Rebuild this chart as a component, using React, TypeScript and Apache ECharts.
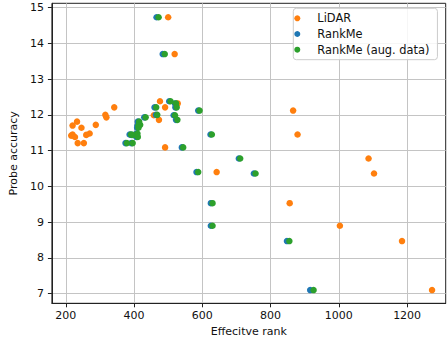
import React, { useEffect, useRef } from "react";
import * as echarts from "echarts";

// Probe accuracy of each model (shared y)
const probeAccuracy = [
  14.73, 13.7, 12.38, 12.32, 12.21, 12.21, 12.12, 12.0, 11.99, 11.93, 11.86, 11.81, 11.72, 11.7, 11.64,
  11.48, 11.45, 11.45, 11.44, 11.42, 11.38, 11.21, 11.21, 11.09, 10.78, 10.4, 10.36, 9.53, 8.9, 8.47, 7.1,
];
// Effective rank per method
const lidarRank = [
  500, 519, 476, 528, 491, 342, 866, 316, 458, 319, 473, 233, 288, 220, 246,
  270, 879, 220, 260, 216, 227, 235, 253, 491, 1087, 642, 1103, 856, 1003, 1185, 1273,
];
const rankMeRank = [
  466, 484, 503, 520, 460, 521, 588, 464, 516, 430, 523, 411, 414, 410, 409,
  407, 624, 387, 392, 405, 407, 375, 392, 540, 707, 583, 751, 625, 625, 848, 916,
];
const rankMeAugRank = [
  472, 490, 507, 523, 465, 525, 592, 468, 520, 434, 527, 415, 418, 413, 413,
  410, 628, 391, 396, 409, 411, 379, 396, 544, 711, 588, 756, 630, 630, 855, 926,
];
const xTicks = [200, 400, 600, 800, 1000, 1200];
const yTicks = [7, 8, 9, 10, 11, 12, 13, 14, 15];
const seriesNames = ["LiDAR", "RankMe", "RankMe (aug. data)"];
const seriesColors = ["#ff7f0e", "#1f77b4", "#2ca02c"];

const FONT = "DejaVu Sans";

export default function App() {
  const ref = useRef<HTMLDivElement>(null);
  useEffect(() => {
    if (!ref.current) return;
    const chart = echarts.init(ref.current, undefined, { renderer: "svg" });
    const xs = [lidarRank, rankMeRank, rankMeAugRank];
    chart.setOption({
      animation: false,
      backgroundColor: "#ffffff",
      textStyle: { fontFamily: FONT },
      grid: {
        left: 48.3,
        right: 1.3,
        top: 3.3,
        bottom: 39.7,
        show: true,
        borderColor: "#222",
        borderWidth: 1,
        backgroundColor: "transparent",
      },
      legend: {
        data: seriesNames,
        orient: "vertical",
        left: 293.3,
        top: 8.3,
        padding: [3, 8, 3, 1],
        itemGap: 1.7,
        itemWidth: 30,
        itemHeight: 6,
        icon: "circle",
        backgroundColor: "rgba(255,255,255,0.85)",
        borderColor: "#cccccc",
        borderWidth: 1,
        borderRadius: 3,
        textStyle: { fontFamily: FONT, fontSize: 11.4, color: "#111", lineHeight: 14 },
      },
      xAxis: {
        type: "value",
        min: 159.4,
        max: 1313,
        name: "Effecitve rank",
        nameLocation: "middle",
        nameGap: 22,
        nameTextStyle: { fontFamily: FONT, fontSize: 11, color: "#111" },
        axisLine: { show: true, lineStyle: { color: "#222", width: 1 } },
        axisTick: { show: true, length: 4, customValues: xTicks, lineStyle: { color: "#222" } },
        axisLabel: {
          customValues: xTicks,
          margin: 7,
          fontFamily: FONT,
          fontSize: 11,
          color: "#111",
          formatter: (v: number) => String(v),
        },
        splitLine: { show: true, lineStyle: { color: "#c4c4c4", width: 1 } },
      },
      yAxis: {
        type: "value",
        min: 6.73,
        max: 15.12,
        name: "Probe accuracy",
        nameLocation: "middle",
        nameGap: 25,
        nameTextStyle: { fontFamily: FONT, fontSize: 11, color: "#111" },
        axisLine: { show: true, lineStyle: { color: "#222", width: 1 } },
        axisTick: { show: true, length: 4, customValues: yTicks, lineStyle: { color: "#222" } },
        axisLabel: {
          customValues: yTicks,
          margin: 8,
          fontFamily: FONT,
          fontSize: 11,
          color: "#111",
          formatter: (v: number) => String(v),
        },
        splitLine: { show: true, lineStyle: { color: "#c4c4c4", width: 1 } },
      },
      series: seriesNames.map((name, i) => ({
        name,
        type: "scatter",
        symbol: "circle",
        symbolSize: 6.5,
        itemStyle: { color: seriesColors[i], opacity: 1 },
        data: xs[i].map((x, j) => [x, probeAccuracy[j]]),
      })),
    });
    return () => chart.dispose();
  }, []);
  return (
    <div
      ref={ref}
      style={{ position: "fixed", left: 0, top: 0, width: 447, height: 343 }}
    />
  );
}
